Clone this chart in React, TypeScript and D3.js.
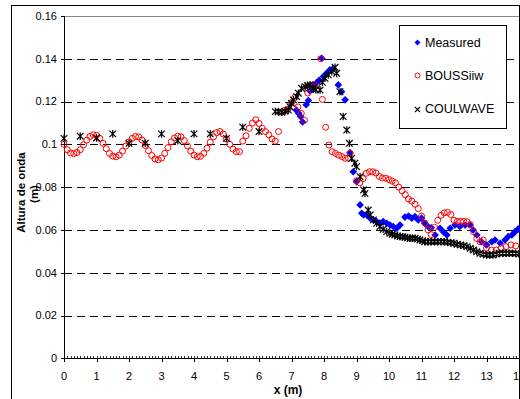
import React from "react";
import * as d3 from "d3";

const xTicks = [0, 1, 2, 3, 4, 5, 6, 7, 8, 9, 10, 11, 12, 13, 14];
const yTicks = [0, 0.02, 0.04, 0.06, 0.08, 0.1, 0.12, 0.14, 0.16];
const yTickLabels = ["0", "0.02", "0.04", "0.06", "0.08", "0.1", "0.12", "0.14", "0.16"];
const seriesNames = ["Measured", "BOUSSiiw", "COULWAVE"];

const measured: [number, number][] = [
  [7.15, 0.116], [7.22, 0.1145], [7.28, 0.113], [7.34, 0.1105], [7.45, 0.1185], [7.52, 0.1205],
  [7.57, 0.125], [7.67, 0.127], [7.77, 0.1288], [7.85, 0.13], [7.93, 0.1402], [7.98, 0.1317],
  [8.08, 0.1332], [8.18, 0.1348], [8.27, 0.1352], [8.44, 0.1278], [8.54, 0.1246], [8.65, 0.1208],
  [8.8, 0.0962], [8.9, 0.0872], [9.0, 0.0826], [9.11, 0.0717], [9.16, 0.0678], [9.22, 0.067],
  [9.32, 0.067], [9.42, 0.0655], [9.52, 0.0647], [9.62, 0.0639], [9.72, 0.0631], [9.82, 0.0639],
  [9.93, 0.0631], [10.03, 0.0623], [10.13, 0.0616], [10.24, 0.0608], [10.34, 0.0623], [10.49, 0.066],
  [10.6, 0.0665], [10.7, 0.0655], [10.8, 0.0662], [10.9, 0.0647], [11.0, 0.0655], [11.1, 0.0631],
  [11.2, 0.0616], [11.3, 0.061], [11.42, 0.0576], [11.57, 0.0608], [11.68, 0.059], [11.78, 0.0576],
  [11.88, 0.0608], [12.03, 0.0623], [12.18, 0.0616], [12.34, 0.0623], [12.49, 0.0623], [12.59, 0.06],
  [12.7, 0.0576], [12.85, 0.0545], [13.0, 0.053], [13.16, 0.0545], [13.26, 0.0553], [13.42, 0.0538],
  [13.57, 0.0553], [13.67, 0.0569], [13.78, 0.0576], [13.88, 0.0592], [13.98, 0.0605],
];

const boussiiw: [number, number][] = [
  [0.0, 0.1], [0.1, 0.0975], [0.2, 0.096], [0.3, 0.0957], [0.4, 0.0962], [0.5, 0.0975], [0.6, 0.0998],
  [0.7, 0.102], [0.8, 0.1037], [0.9, 0.1045], [1.0, 0.1042], [1.1, 0.1028], [1.2, 0.1005], [1.3, 0.098],
  [1.4, 0.0958], [1.5, 0.0945], [1.6, 0.0942], [1.7, 0.095], [1.8, 0.0968], [1.9, 0.0992], [2.0, 0.1012],
  [2.1, 0.1028], [2.2, 0.1037], [2.3, 0.1035], [2.4, 0.102], [2.5, 0.0995], [2.6, 0.097], [2.7, 0.0948],
  [2.8, 0.0932], [2.9, 0.0928], [3.0, 0.0936], [3.1, 0.0958], [3.2, 0.0985], [3.3, 0.1012], [3.4, 0.103],
  [3.5, 0.1038], [3.6, 0.1035], [3.7, 0.1018], [3.8, 0.0993], [3.9, 0.0968], [4.0, 0.095], [4.1, 0.0942],
  [4.2, 0.0944], [4.3, 0.0958], [4.4, 0.0982], [4.5, 0.101], [4.6, 0.1035], [4.7, 0.1055], [4.8, 0.106],
  [4.9, 0.1048], [5.0, 0.1025], [5.1, 0.1], [5.2, 0.0978], [5.3, 0.0966], [5.4, 0.0966], [5.5, 0.1015],
  [5.6, 0.104], [5.7, 0.1075], [5.8, 0.11], [5.9, 0.1115], [6.0, 0.1098], [6.1, 0.1075], [6.2, 0.106],
  [6.3, 0.1045], [6.4, 0.1025], [6.5, 0.1015], [6.6, 0.106], [6.7, 0.115], [6.8, 0.116], [6.9, 0.1165],
  [7.0, 0.1195], [7.1, 0.122], [7.2, 0.1175], [7.3, 0.1145], [7.4, 0.1112], [7.5, 0.124], [7.6, 0.1275],
  [7.7, 0.128], [7.8, 0.126], [7.9, 0.14], [7.95, 0.121], [8.05, 0.108], [8.15, 0.0997], [8.25, 0.0966],
  [8.35, 0.0958], [8.45, 0.095], [8.55, 0.0943], [8.65, 0.0935], [8.75, 0.0935], [8.8, 0.0958],
  [9.0, 0.083], [9.1, 0.082], [9.2, 0.084], [9.3, 0.0865], [9.4, 0.0872], [9.5, 0.0872], [9.6, 0.0866],
  [9.7, 0.085], [9.8, 0.0843], [9.9, 0.0842], [10.0, 0.0835], [10.1, 0.0828], [10.2, 0.082], [10.3, 0.08],
  [10.4, 0.0783], [10.5, 0.0765], [10.6, 0.0745], [10.7, 0.0735], [10.8, 0.072], [10.9, 0.07], [11.0, 0.0665],
  [11.1, 0.0632], [11.2, 0.06], [11.3, 0.0578], [11.4, 0.0612], [11.5, 0.0645], [11.6, 0.0668], [11.7, 0.068],
  [11.8, 0.0682], [11.9, 0.0672], [12.0, 0.0645], [12.1, 0.064], [12.2, 0.064], [12.3, 0.064], [12.4, 0.0638],
  [12.5, 0.0625], [12.6, 0.0592], [12.7, 0.056], [12.8, 0.0545], [12.9, 0.0553], [13.0, 0.0515],
  [13.15, 0.0506], [13.3, 0.0506], [13.45, 0.0514], [13.6, 0.0522], [13.75, 0.053], [13.9, 0.0525],
];

const coulwave: [number, number][] = [
  [0.0, 0.1028], [0.5, 0.1038], [1.0, 0.103], [1.5, 0.1049], [2.0, 0.1005], [2.5, 0.1005], [3.0, 0.1049],
  [3.5, 0.1017], [4.0, 0.1049], [4.5, 0.1049], [5.0, 0.1028], [5.5, 0.108], [6.0, 0.106],
  [6.5, 0.1153], [6.6, 0.1153], [6.7, 0.115], [6.8, 0.1155], [6.9, 0.116], [6.95, 0.1176], [7.0, 0.1192],
  [7.06, 0.1208], [7.16, 0.1223], [7.21, 0.1239], [7.31, 0.1262], [7.42, 0.127], [7.5, 0.1275], [7.57, 0.1278],
  [7.67, 0.1262], [7.75, 0.1255], [7.88, 0.1254], [7.95, 0.129], [8.03, 0.1309], [8.13, 0.1325], [8.24, 0.134],
  [8.34, 0.136], [8.39, 0.1332], [8.49, 0.1246], [8.59, 0.113], [8.7, 0.1067], [8.78, 0.1005], [8.85, 0.0935],
  [8.95, 0.0912], [9.0, 0.0896], [9.11, 0.0849], [9.22, 0.0787], [9.26, 0.0771], [9.36, 0.0693], [9.42, 0.067],
  [9.52, 0.0647], [9.62, 0.0631], [9.72, 0.0616], [9.82, 0.0603], [9.93, 0.0592], [10.03, 0.0584], [10.1, 0.058],
  [10.18, 0.0576], [10.26, 0.0572], [10.34, 0.0569], [10.42, 0.0568], [10.49, 0.0566], [10.57, 0.0563],
  [10.65, 0.0561], [10.72, 0.0561], [10.8, 0.0561], [10.88, 0.0557], [10.95, 0.0553], [11.03, 0.055],
  [11.1, 0.0545], [11.2, 0.0545], [11.3, 0.0545], [11.4, 0.0545], [11.5, 0.0545], [11.6, 0.0545],
  [11.7, 0.0545], [11.8, 0.0543], [11.9, 0.054], [12.0, 0.0538], [12.1, 0.0533], [12.2, 0.053], [12.3, 0.0526],
  [12.4, 0.0522], [12.5, 0.0514], [12.6, 0.0506], [12.7, 0.0498], [12.8, 0.0491], [12.9, 0.0487], [13.0, 0.0483],
  [13.1, 0.0483], [13.2, 0.0483], [13.3, 0.0487], [13.4, 0.0491], [13.5, 0.0491], [13.6, 0.0491], [13.7, 0.0491],
  [13.8, 0.0491], [13.9, 0.049], [14.0, 0.0488],
];

const FONT = "Arial, 'Liberation Sans', sans-serif";

const Diamond = ({ cx, cy, s }: { cx: number; cy: number; s: number }) => (
  <path d={`M${cx},${cy - s}L${cx + s},${cy}L${cx},${cy + s}L${cx - s},${cy}Z`} fill="#0000ff" />
);
const Star = ({ cx, cy, s }: { cx: number; cy: number; s: number }) => (
  <path
    d={`M${cx - s},${cy - s}L${cx + s},${cy + s}M${cx - s},${cy + s}L${cx + s},${cy - s}M${cx},${cy - s - 0.5}L${cx},${cy + s + 0.5}`}
    stroke="#000"
    strokeWidth={1.2}
    fill="none"
  />
);

export default function App() {
  const x = d3.scaleLinear().domain([0, 14]).range([64, 519]);
  const y = d3.scaleLinear().domain([0, 0.16]).range([358.3, 16]);
  const minorTicks = d3.range(0, 140).map((i) => i / 10);

  return (
    <svg
      width={520}
      height={399}
      style={{ position: "absolute", left: 0, top: 0, background: "#fff" }}
      fontFamily={FONT}
    >
      <rect x={0} y={0} width={520} height={399} fill="#fff" />
      <rect x={11.5} y={5.5} width={508} height={400} fill="none" stroke="#000" strokeWidth={1} />
      {/* gridlines */}
      {yTicks.slice(1, -1).map((t) => (
        <line key={t} x1={64} x2={519} y1={Math.round(y(t)) + 0.5} y2={Math.round(y(t)) + 0.5}
          stroke="#000" strokeDasharray="8,5" strokeWidth={1} />
      ))}
      <line x1={64} x2={519} y1={16.5} y2={16.5} stroke="#888" strokeWidth={1} />
      {/* axes */}
      <line x1={64.5} x2={64.5} y1={16} y2={359} stroke="#000" />
      <line x1={64} x2={519} y1={358.5} y2={358.5} stroke="#000" />
      {yTicks.map((t, i) => (
        <g key={t}>
          <line x1={61} x2={64} y1={Math.round(y(t)) + 0.5} y2={Math.round(y(t)) + 0.5} stroke="#000" />
          <text x={57} y={y(t)} dy="0.35em" textAnchor="end" fontSize={11} fill="#000">
            {yTickLabels[i]}
          </text>
        </g>
      ))}
      {minorTicks.map((t) => (
        <line key={t} x1={Math.round(x(t)) + 0.5} x2={Math.round(x(t)) + 0.5} y1={356} y2={358.5} stroke="#000" strokeWidth={0.8} />
      ))}
      {xTicks.map((t) => (
        <g key={t}>
          <line x1={Math.round(x(t)) + 0.5} x2={Math.round(x(t)) + 0.5} y1={358} y2={362} stroke="#000" />
          <text x={x(t)} y={380} textAnchor="middle" fontSize={11} fill="#000">
            {t}
          </text>
        </g>
      ))}
      <text x={288} y={394} textAnchor="middle" fontSize={12} fontWeight="bold">x (m)</text>
      <text transform="translate(24.5,192.5) rotate(-90)" textAnchor="middle" fontSize={11.5} fontWeight="bold">
        Altura de onda
      </text>
      <text transform="translate(38,194) rotate(-90)" textAnchor="middle" fontSize={11.5} fontWeight="bold">
        (m)
      </text>
      {/* series */}
      <g>
        {measured.map(([a, b], i) => (
          <Diamond key={i} cx={x(a)} cy={y(b)} s={3.8} />
        ))}
      </g>
      <g>
        {boussiiw.map(([a, b], i) => (
          <circle key={i} cx={x(a)} cy={y(b)} r={3} fill="none" stroke="#ff0000" strokeWidth={1} />
        ))}
      </g>
      <g>
        {coulwave.map(([a, b], i) => (
          <Star key={i} cx={x(a)} cy={y(b)} s={3.3} />
        ))}
      </g>
      {/* legend */}
      <rect x={399.5} y={25.5} width={107} height={103} fill="#fff" stroke="#000" />
      <Diamond cx={417.5} cy={42.5} s={3} />
      <text x={425} y={46.5} fontSize={12.5}>{seriesNames[0]}</text>
      <circle cx={417.5} cy={75.5} r={2.5} fill="none" stroke="#ff0000" />
      <text x={425} y={79.5} fontSize={12.5}>{seriesNames[1]}</text>
      <path d="M415,107L420,112M415,112L420,107" stroke="#000" strokeWidth={1.1} />
      <text x={425} y={113} fontSize={12.5}>{seriesNames[2]}</text>
    </svg>
  );
}
